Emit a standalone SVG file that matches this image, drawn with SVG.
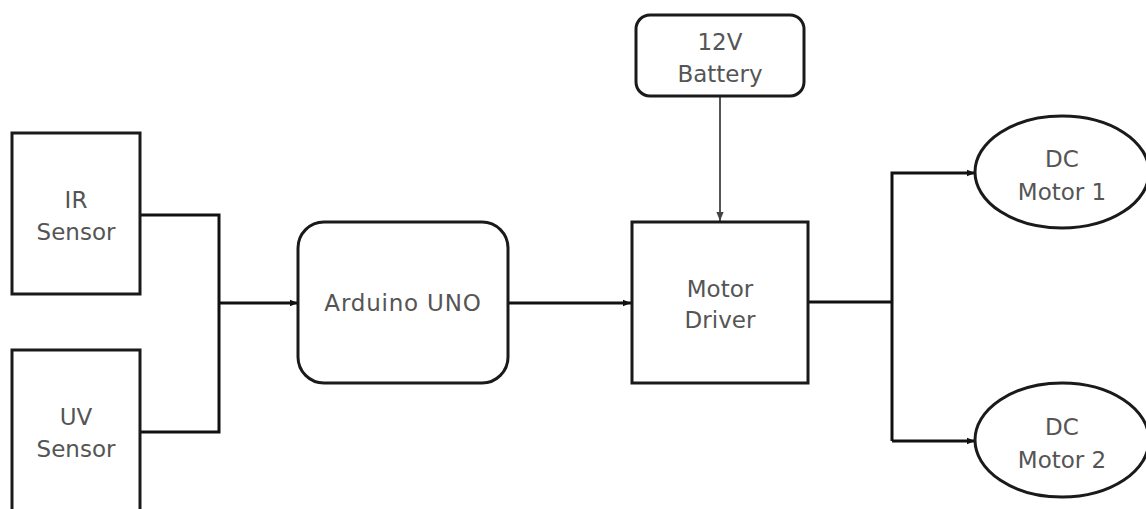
<svg xmlns="http://www.w3.org/2000/svg" width="1146" height="509" viewBox="0 0 1146 509">
<defs>
<style>
.box{fill:#fff;stroke:#1a1a1a;stroke-width:3}
.lbl{font-family:"DejaVu Sans",sans-serif;font-size:23px;fill:#555;text-anchor:middle}
.con{fill:none;stroke:#111;stroke-width:3}
.con2{fill:none;stroke:#555;stroke-width:2}
</style>
<marker id="arr" viewBox="0 0 10 10" refX="10" refY="5" markerWidth="8" markerHeight="8" markerUnits="userSpaceOnUse" orient="auto">
<path d="M0,1 L10,5 L0,9 Z" fill="#111"/>
</marker>
<marker id="arr2" viewBox="0 0 10 10" refX="10" refY="5" markerWidth="9" markerHeight="9" markerUnits="userSpaceOnUse" orient="auto">
<path d="M0,1 L10,5 L0,9 Z" fill="#444"/>
</marker>
</defs>
<rect width="1146" height="509" fill="#fff"/>
<g id="connectors">
<path class="con" d="M140,215 H219 V432 H140"/>
<path class="con" d="M219,303 H298" marker-end="url(#arr)"/>
<path class="con" d="M508,303 H631" marker-end="url(#arr)"/>
<path class="con2" d="M720,96 V221" marker-end="url(#arr2)"/>
<path class="con" d="M808,302 H892"/>
<path class="con" d="M892,441 V173 H975" marker-end="url(#arr)"/>
<path class="con" d="M892,441 H975" marker-end="url(#arr)"/>
</g>
<g id="ir-sensor">
<rect class="box" x="12" y="133" width="128" height="161"/>
<text class="lbl" x="76" y="208">IR</text>
<text class="lbl" x="76" y="240">Sensor</text>
</g>
<g id="uv-sensor">
<rect class="box" x="12" y="350" width="128" height="170"/>
<text class="lbl" x="76" y="425">UV</text>
<text class="lbl" x="76" y="457">Sensor</text>
</g>
<g id="arduino">
<rect class="box" x="298" y="222" width="210" height="161" rx="26"/>
<text class="lbl" x="403" y="311" letter-spacing="0.8">Arduino UNO</text>
</g>
<g id="battery">
<rect class="box" x="636" y="15" width="168" height="81" rx="14"/>
<text class="lbl" x="720" y="50">12V</text>
<text class="lbl" x="720" y="82">Battery</text>
</g>
<g id="motor-driver">
<rect class="box" x="632" y="222" width="176" height="161"/>
<text class="lbl" x="720" y="297">Motor</text>
<text class="lbl" x="720" y="328">Driver</text>
</g>
<g id="dc-motor-1">
<ellipse class="box" cx="1062" cy="172" rx="87" ry="56"/>
<text class="lbl" x="1062" y="167">DC</text>
<text class="lbl" x="1062" y="200">Motor 1</text>
</g>
<g id="dc-motor-2">
<ellipse class="box" cx="1062" cy="440" rx="87" ry="57"/>
<text class="lbl" x="1062" y="435">DC</text>
<text class="lbl" x="1062" y="468">Motor 2</text>
</g>
</svg>
